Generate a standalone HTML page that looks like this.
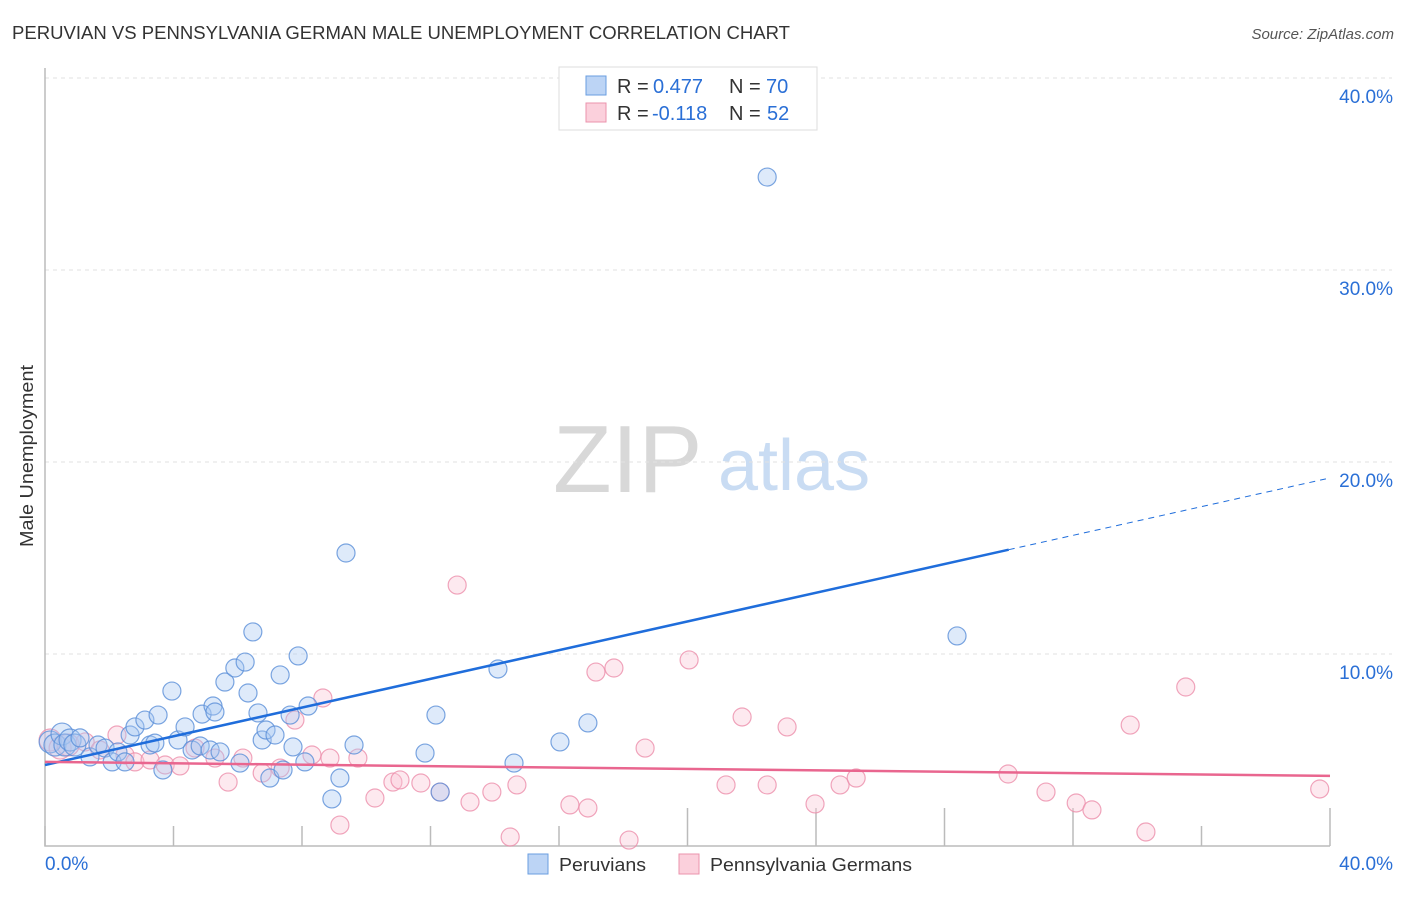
<!DOCTYPE html>
<html><head><meta charset="utf-8"><style>
body{margin:0;background:#fff;font-family:"Liberation Sans",sans-serif}
svg text{font-family:"Liberation Sans",sans-serif}
</style></head><body>
<svg id="chart" width="1406" height="892" xmlns="http://www.w3.org/2000/svg">
<text x="12" y="39" font-size="18" fill="#333" textLength="778" lengthAdjust="spacingAndGlyphs">PERUVIAN VS PENNSYLVANIA GERMAN MALE UNEMPLOYMENT CORRELATION CHART</text>
<text x="1394" y="39" font-size="15" fill="#555" text-anchor="end" font-style="italic">Source: ZipAtlas.com</text>
<text x="553" y="492" font-size="96" fill="#d8d8d8" font-family="Liberation Serif,serif">ZIP</text>
<text x="718" y="490" font-size="72" fill="#c9dcf3">atlas</text>
<text transform="translate(33,456) rotate(-90)" font-size="18" fill="#333" text-anchor="middle" textLength="182" lengthAdjust="spacingAndGlyphs">Male Unemployment</text>
<g id="grid"></g><g id="axes"></g><g id="pts"></g><g id="lines"></g>
<g>
<rect x="559" y="67" width="258" height="63" fill="#fff" stroke="#ddd"/>
<rect x="586" y="76" width="20" height="19" fill="#bcd4f5" stroke="#6a9ee0"/>
<rect x="586" y="103" width="20" height="19" fill="#fbd0dc" stroke="#eb93ad"/>
<text x="617" y="93" font-size="20" fill="#333">R =</text>
<text x="653" y="93" font-size="20" fill="#2a6fd6">0.477</text>
<text x="729" y="93" font-size="20" fill="#333">N =</text>
<text x="766" y="93" font-size="20" fill="#2a6fd6">70</text>
<text x="617" y="120" font-size="20" fill="#333">R =</text>
<text x="652" y="120" font-size="20" fill="#2a6fd6">-0.118</text>
<text x="729" y="120" font-size="20" fill="#333">N =</text>
<text x="767" y="120" font-size="20" fill="#2a6fd6">52</text>
</g>
<g>
<rect x="528" y="854" width="20" height="20" fill="#bcd4f5" stroke="#6a9ee0"/>
<text x="559" y="871" font-size="18" fill="#333" textLength="87" lengthAdjust="spacingAndGlyphs">Peruvians</text>
<rect x="679" y="854" width="20" height="20" fill="#fbd0dc" stroke="#eb93ad"/>
<text x="710" y="871" font-size="18" fill="#333" textLength="202" lengthAdjust="spacingAndGlyphs">Pennsylvania Germans</text>
</g>
</svg>
<script>
const blueX=[0.16,0.31,0.53,0.62,0.78,0.93,1.09,1.40,1.65,1.87,2.09,2.27,2.49,2.65,2.80,3.11,3.27,3.42,3.52,3.67,3.95,4.14,4.36,4.58,4.83,4.89,5.14,5.23,5.29,5.45,5.60,5.91,6.07,6.23,6.32,6.47,6.63,6.76,6.88,7.00,7.16,7.32,7.41,7.63,7.72,7.88,8.09,8.19,8.93,9.18,9.37,9.62,11.83,12.17,12.30,14.10,14.60,16.03,16.90,22.48,28.39];
const blueY=[5.42,5.26,5.83,5.26,5.52,5.26,5.63,4.64,5.26,5.10,4.38,4.90,4.38,5.78,6.20,6.56,5.26,5.36,6.82,3.96,8.07,5.52,6.20,5.00,5.21,6.87,5.00,7.29,6.98,4.90,8.54,9.27,4.32,9.58,7.97,11.15,6.93,5.52,6.04,3.54,5.78,8.91,3.96,6.82,5.16,9.90,4.38,7.29,2.45,3.54,15.26,5.26,4.84,6.82,2.81,9.22,4.32,5.42,6.41,34.84,10.94];
const pinkX=[0.16,0.47,0.72,1.25,1.71,2.24,2.49,2.80,3.27,3.74,4.20,4.67,5.29,5.70,6.16,6.76,7.32,7.78,8.31,8.65,8.87,9.18,9.74,10.27,10.83,11.05,11.70,12.30,12.83,13.23,13.91,14.48,14.69,16.34,16.90,17.15,17.71,18.18,18.68,20.05,21.20,21.70,22.48,23.10,23.97,24.75,25.25,29.98,31.16,32.10,32.59,33.78,34.27,35.51,39.68];
const pinkY=[5.52,5.10,5.26,5.42,5.00,5.78,4.74,4.38,4.48,4.22,4.17,5.10,4.58,3.33,4.58,3.80,4.06,6.56,4.74,7.71,4.58,1.09,4.58,2.50,3.33,3.44,3.28,2.81,13.59,2.29,2.81,0.47,3.18,2.14,1.98,9.06,9.27,0.31,5.10,9.69,3.18,6.72,3.18,6.20,2.19,3.18,3.54,3.75,2.81,2.24,1.88,6.30,0.73,8.28,2.97];
const blueTrend=[4.22,19.17];
const pinkTrend=[4.38,3.65];
const blueSolidEnd=30.0;
const yTicks=[10,20,30,40];
const yTickLabels=["10.0%","20.0%","30.0%","40.0%"];
const xTicks=[0,4,8,12,16,20,24,28,32,36,40];
const NS="http://www.w3.org/2000/svg";
const X=v=>45+v/40*1285, Y=v=>846-v/10*192;
function mk(tag,attrs,parent){const e=document.createElementNS(NS,tag);for(const k in attrs)e.setAttribute(k,attrs[k]);parent.appendChild(e);return e;}
const grid=document.getElementById('grid'),axes=document.getElementById('axes'),pts=document.getElementById('pts'),lines=document.getElementById('lines');
yTicks.forEach((t,i)=>{
  const l=mk('line',{x1:45,x2:1392,y1:Y(t),y2:Y(t),stroke:'#e2e2e2','stroke-dasharray':'4,4'},grid);
  
  
  const tx=mk('text',{x:1393,y:Y(t)+25,'font-size':19,fill:'#2a6fd6','text-anchor':'end'},grid);
  tx.textContent=yTickLabels[i];
  
  
});
const ax=mk('path',{d:'M45 68 V846 H1330',stroke:'#bbb',fill:'none','stroke-width':1.5},axes);


xTicks.forEach((t,i)=>{
  const tall=[5,6,7,8,10].includes(i);
  const tk=mk('line',{x1:X(t),x2:X(t),y1:tall?808:826,y2:846,stroke:'#bbb','stroke-width':1.5},axes);
  
  
});
[[0,'0.0%','start',45],[40,'40.0%','end',1393]].forEach(([v,s,a,x])=>{
  const t=mk('text',{x:x,y:870,'font-size':19,fill:'#2a6fd6','text-anchor':a},axes);t.textContent=s;
  
  
});
function drawPts(xs,ys,fill,stroke,name){
  xs.forEach((x,i)=>{
    const r=x<1?11:9;
    const c=mk('circle',{cx:X(x),cy:Y(ys[i]),r:r,fill:fill,'fill-opacity':0.38,stroke:stroke,'stroke-opacity':0.8,'stroke-width':1.2},pts);
    
    
  });
}
drawPts(pinkX,pinkY,'#f9c6d5','#ec8fab','pennsylvania-german-point');
drawPts(blueX,blueY,'#a9c8f1','#5a8fd8','peruvian-point');
const by=x=>blueTrend[0]+(blueTrend[1]-blueTrend[0])*x/40;
const b1=mk('line',{x1:X(0),y1:Y(by(0)),x2:X(blueSolidEnd),y2:Y(by(blueSolidEnd)),stroke:'#1f6ddb','stroke-width':2.5},lines);


const b2=mk('line',{x1:X(blueSolidEnd),y1:Y(by(blueSolidEnd)),x2:X(40),y2:Y(by(40)),stroke:'#1f6ddb','stroke-width':1,'stroke-dasharray':'6,5'},lines);


const p1=mk('line',{x1:X(0),y1:Y(pinkTrend[0]),x2:X(40),y2:Y(pinkTrend[1]),stroke:'#e9668f','stroke-width':2.5},lines);


</script>
</body></html>
